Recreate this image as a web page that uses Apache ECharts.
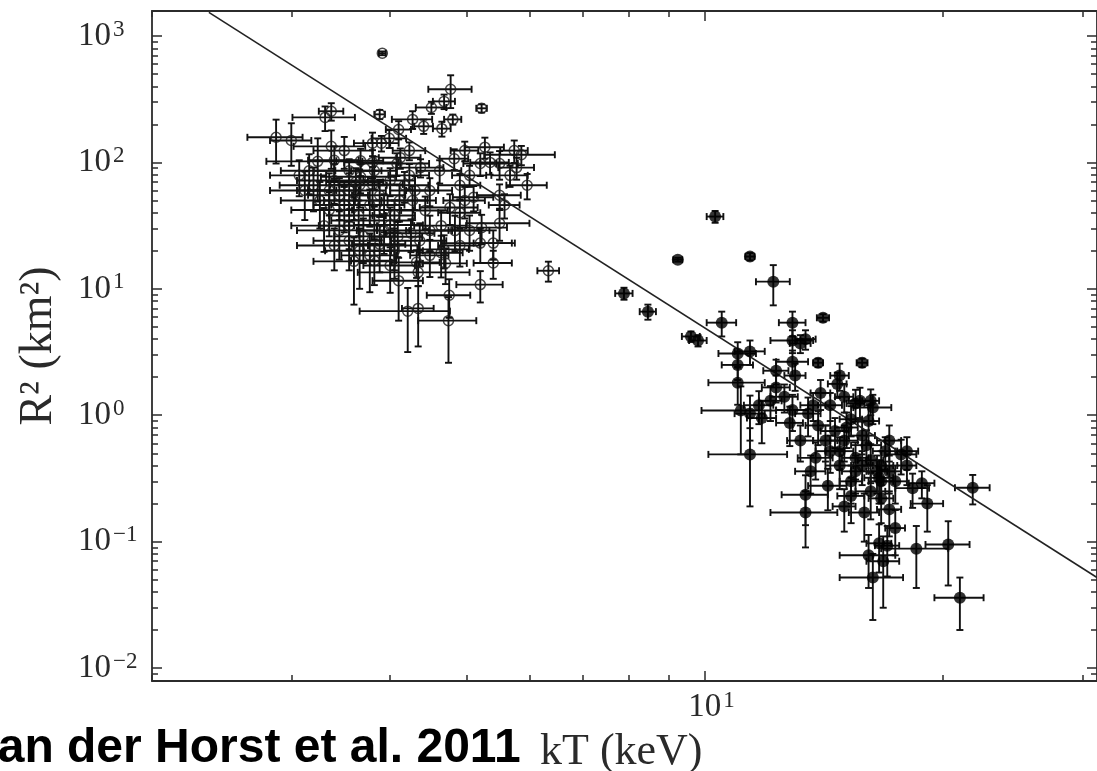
<!DOCTYPE html>
<html><head><meta charset="utf-8">
<script src="https://cdn.jsdelivr.net/npm/echarts@6/dist/echarts.min.js"></script>
<style>html,body{margin:0;padding:0;background:#fff;overflow:hidden}#c{width:1097px;height:771px}</style>
</head><body><div id="c"></div>
<script>
// ---- open circles (left cluster) ----
const openKT = [3.91,3.88,5.22,4.77,4.68,4.51,4.27,4.41,4.65,4.80,
 2.87,3.00,3.31,3.37,3.37,3.24,4.10,5.27,5.74,5.86,
 5.96,6.34,4.21,4.34,4.74,4.34,4.32,3.82,4.75,5.20,
 5.40,4.25,4.68,4.70,3.67,3.67,3.80,3.80,3.90,3.99,
 4.08,3.62,3.80,4.23,4.12,4.82,5.20,5.35,5.50,4.37,
 4.62,5.78,5.50,5.10,4.27,4.76,4.90,4.64,4.09,5.22,
 5.50,4.36,4.64,5.20,5.40,3.40,3.45,3.55,3.50,3.60,
 3.35,3.65,3.77,3.88,3.93,4.00,3.70,3.55,3.88,4.05,
 3.77,3.60,4.43,4.49,4.90,5.04,3.40,3.50,3.20,3.26,
 4.00,4.17,4.23,4.97,5.04,5.67,5.58,3.66,4.00,4.10,
 3.82,4.90,4.49,3.45,3.30,3.12,3.07,3.55,4.05,
 3.55,3.40,3.66,3.82,3.93,4.11,4.30,4.49,4.83,4.97,3.35,3.16,4.05];
const openKTerr = [0.04,0.06,0.08,0.30,0.15,0.20,0.25,0.12,0.12,0.12,
 0.23,0.18,0.30,0.12,0.35,0.45,0.15,0.30,0.23,0.60,
 0.35,0.20,0.55,0.20,0.40,0.70,0.30,0.45,0.30,0.35,
 0.30,0.30,0.35,0.30,0.40,0.25,0.20,0.30,0.20,0.20,
 0.40,0.30,0.35,0.20,0.25,0.20,0.25,0.30,0.30,0.30,
 0.30,0.30,0.35,0.30,0.30,0.40,0.30,0.35,0.30,0.40,
 0.50,0.35,0.30,0.55,0.30,0.35,0.30,0.40,0.30,0.30,
 0.35,0.30,0.40,0.30,0.35,0.40,0.30,0.35,0.30,0.35,
 0.30,0.40,0.30,0.30,0.30,0.30,0.25,0.30,0.30,0.35,
 0.30,0.30,0.25,0.20,0.25,0.30,0.25,0.35,0.30,0.30,
 0.25,0.30,0.25,0.40,0.30,0.30,0.25,0.35,0.25,
 0.30,0.35,0.30,0.25,0.30,0.35,0.30,0.30,0.35,0.30,0.30,0.25,0.30];
const openR2 = [730,240,268,379,304,272,219,193,185,219,
 158,149,227,254,134,102,182,132,124,115,
 66,13.9,6.66,7.0,5.6,13.5,16.2,34.7,8.9,10.8,
 16,27.5,20.5,15.9,77,103,142,100,142,155,
 98,70,67,124,109,107,98,100,98,91,
 86,91,55,53,50,44,40,31.6,25.8,30.5,
 33,24,19.3,23,23,72,55,60,46,50,
 42,38,46,55,42,32,26,24,22.5,20,
 18.4,16.5,41.7,60,66,29,104,124,66,50,
 72,66,79,124,79,79,46,20,15.3,11.6,
 16.7,22,18.4,29,31.6,60,79,86,38,
 31.6,22,66,86,28.9,50,60,28.9,28.9,50,60,86,22];
const openR2err = [25,20,20,110,40,30,35,25,25,20,
 60,55,50,40,45,53,30,25,25,20,
 15,2.5,3.5,3.5,3.0,3,4,10,3,3,
 4,8,6,5,20,25,30,25,20,25,
 20,20,25,20,20,20,20,20,25,15,
 18,18,12,12,15,12,10,10,8,8,
 9,9,7,7,6,25,20,22,18,15,
 16,12,15,18,14,12,10,10,9,8,
 9,9,12,15,15,9,30,35,25,20,
 18,18,18,22,15,15,10,10,6,6,
 6,7,6,12,12,25,25,20,12,
 11,8,22,25,10,16,18,9,9,14,22,30,8];

// ---- filled circles (right cluster) ----
const filledKT = [10.3,11.4,12.2,10.5,12.9,14.1,7.9,8.47,9.24,9.6,
 9.8,12.9,13.4,13.2,11.0,11.4,11.0,11.0,12.9,13.9,
 15.8,12.3,13.0,14.8,14.7,12.3,11.1,11.4,11.8,12.1,
 12.8,12.9,13.5,14.0,15.5,16.3,16.1,15.1,11.4,13.8,
 14.8,15.5,16.9,17.7,16.6,14.3,13.4,13.4,15.3,16.7,
 15.9,17.1,18.3,18.8,19.1,21.8,17.4,16.6,17.0,16.1,
 16.8,18.5,20.3,16.3,21.0,14.6,15.0,15.3,15.8,16.0,
 16.2,16.5,16.7,17.1,16.7,16.2,15.5,14.8,14.4,14.2,
 13.9,13.7,14.4,15.0,15.7,16.2,17.4,18.0,12.6,11.7,
 13.2,13.6,15.3,17.1,18.0,15.8,15.0];
const filledKTerr = [0.25,0.15,0.6,0.45,0.5,0.25,0.2,0.2,0.12,0.25,
 0.25,0.8,0.4,0.4,0.6,0.5,0.5,0.9,0.6,0.2,
 0.25,0.45,0.4,0.4,0.4,0.5,1.2,0.5,0.5,0.4,
 0.5,0.6,0.5,0.4,0.4,0.9,0.5,0.5,1.3,0.7,
 0.6,0.6,0.6,0.8,0.7,0.8,0.9,1.3,0.6,0.6,
 0.7,0.6,0.9,0.7,0.9,1.1,0.5,0.6,0.6,1.3,
 0.8,1.8,1.3,1.5,1.5,0.6,0.6,0.5,0.6,0.7,
 0.6,0.5,0.6,0.6,0.6,0.7,0.6,0.6,0.6,0.5,
 0.5,0.5,0.5,0.4,0.5,0.4,0.6,0.5,0.5,0.5,
 0.5,0.6,0.5,0.6,0.6,0.5,0.5];
const filledR2 = [37.3,18,11.4,5.4,5.4,5.9,9.2,6.6,17,4.2,
 3.9,3.9,4.0,3.7,3.08,3.2,2.5,1.81,2.65,2.6,
 2.6,2.25,2.06,2.06,1.77,1.66,1.09,1.03,0.95,1.3,
 0.87,1.1,1.03,1.5,1.24,1.15,0.9,0.8,0.49,0.46,
 0.52,0.46,0.52,0.49,0.32,0.277,0.235,0.17,0.23,0.22,
 0.17,0.18,0.265,0.29,0.2,0.267,0.128,0.097,0.093,0.078,
 0.07,0.088,0.095,0.052,0.036,0.75,0.63,0.93,0.69,0.58,
 0.44,0.36,0.4,0.36,0.3,0.25,0.36,0.4,0.52,0.63,
 0.83,1.2,1.2,1.4,1.3,1.3,0.3,0.4,1.4,1.2,
 0.63,0.36,0.3,0.63,0.52,0.4,0.19];
const filledR2err = [4,1.2,4,1.2,1.2,0.4,1.0,0.9,0.6,0.4,
 0.4,0.8,0.7,0.6,0.7,0.7,0.6,0.6,0.6,0.2,
 0.2,0.5,0.5,0.5,0.4,0.4,0.6,0.4,0.35,0.4,
 0.3,0.35,0.35,0.4,0.35,0.3,0.3,0.25,0.3,0.15,
 0.15,0.15,0.15,0.15,0.12,0.1,0.1,0.08,0.09,0.08,
 0.07,0.07,0.08,0.07,0.08,0.07,0.05,0.04,0.04,0.035,
 0.04,0.045,0.05,0.028,0.016,0.2,0.2,0.25,0.2,0.18,
 0.15,0.12,0.12,0.12,0.1,0.1,0.12,0.14,0.17,0.2,
 0.25,0.3,0.3,0.35,0.35,0.3,0.1,0.12,0.35,0.35,
 0.2,0.12,0.1,0.2,0.15,0.12,0.07];

// ---- best-fit line (two end points) ----
const fitKT = [2.36, 31.3];
const fitR2 = [1540, 0.052];

// ---- axes ----
const xRange = [2.0, 31.3];
const yRange = [0.0079, 1577];
const xMajorTicks = [10];
const xTickExps = ['1'];
const xMinorTicks = [2,3,4,5,6,7,8,9,20,30];
const yMajorTicks = [0.01,0.1,1,10,100,1000];
const yTickExps = ['\u22122','\u22121','0','1','2','3'];
const yMinorTicks = [0.008,0.009,
 0.02,0.03,0.04,0.05,0.06,0.07,0.08,0.09,
 0.2,0.3,0.4,0.5,0.6,0.7,0.8,0.9,
 2,3,4,5,6,7,8,9,
 20,30,40,50,60,70,80,90,
 200,300,400,500,600,700,800,900];

const AX = '#2b2b2b';
const SERIF = '"Liberation Serif","DejaVu Serif",serif';
const richLab = {
  n:{fontFamily:SERIF,fontSize:33,color:'#2a2a2a',lineHeight:36},
  e:{fontFamily:SERIF,fontSize:23,color:'#2a2a2a',lineHeight:18,verticalAlign:'top',padding:[0,0,0,2]}
};
const richLabX = {
  n:{fontFamily:SERIF,fontSize:33,color:'#2a2a2a',lineHeight:36,padding:[0,0,0,13]},
  e:{fontFamily:SERIF,fontSize:23,color:'#2a2a2a',lineHeight:18,verticalAlign:'top',padding:[0,0,0,2]}
};
function findIdx(arr,v){for(let i=0;i<arr.length;i++){if(Math.abs(arr[i]-v)/arr[i]<1e-6)return i;}return -1;}

function baseAxis(range,pos,ticks,len,lineShow){
  return {type:'log',logBase:10,min:range[0],max:range[1],position:pos,gridIndex:0,
    axisLine:{show:lineShow,onZero:false,lineStyle:{color:AX,width:1.8}},
    axisTick:{show:true,inside:true,length:len,customValues:ticks,lineStyle:{color:AX,width:1.5}},
    axisLabel:{show:false},
    splitLine:{show:false},minorTick:{show:false},minorSplitLine:{show:false},
    axisPointer:{show:false}};
}
const xAx0 = baseAxis(xRange,'bottom',xMajorTicks,10,true);
xAx0.axisLabel = {show:true,customValues:xMajorTicks,margin:8,
  formatter:function(v){const i=findIdx(xMajorTicks,v);return '{n|10}{e|'+xTickExps[i]+'}';},rich:richLabX};
const yAx0 = baseAxis(yRange,'left',yMajorTicks,10,true);
yAx0.axisLabel = {show:true,customValues:yMajorTicks,margin:74,align:'left',
  formatter:function(v){const i=findIdx(yMajorTicks,v);return '{n|10}{e|'+yTickExps[i]+'}';},rich:richLab};
yAx0.name = 'R\u00b2 (km\u00b2)';
yAx0.nameLocation = 'middle';
yAx0.nameGap = 90;
yAx0.nameRotate = 90;
yAx0.nameTextStyle = {fontFamily:SERIF,fontSize:46,color:'#2a2a2a'};

const xAxes = [xAx0, baseAxis(xRange,'bottom',xMinorTicks,6,false),
  baseAxis(xRange,'top',xMajorTicks,10,true), baseAxis(xRange,'top',xMinorTicks,6,false)];
const yAxes = [yAx0, baseAxis(yRange,'left',yMinorTicks,6,false),
  baseAxis(yRange,'right',yMajorTicks,10,true), baseAxis(yRange,'right',yMinorTicks,6,false)];

function makeData(kt,kte,r,re){const d=[];for(let i=0;i<kt.length;i++){d.push([kt[i],r[i],kte[i],re[i]]);}return d;}
const openData = makeData(openKT,openKTerr,openR2,openR2err);
const filledData = makeData(filledKT,filledKTerr,filledR2,filledR2err);

function errRender(params, api){
  const x=api.value(0), y=api.value(1), dx=api.value(2), dy=api.value(3);
  const c=api.coord([x,y]);
  const l=api.coord([x-dx,y]), r=api.coord([x+dx,y]);
  const t=api.coord([x,y+dy]);
  const lowV = y-dy > yRange[0]*0.2 ? y-dy : yRange[0]*0.2;
  const b=api.coord([x,lowV]);
  const cap=3.5;
  const st={stroke:'#111',lineWidth:1.9};
  return {type:'group',children:[
    {type:'line',shape:{x1:l[0],y1:c[1],x2:r[0],y2:c[1]},style:st},
    {type:'line',shape:{x1:l[0],y1:c[1]-cap,x2:l[0],y2:c[1]+cap},style:st},
    {type:'line',shape:{x1:r[0],y1:c[1]-cap,x2:r[0],y2:c[1]+cap},style:st},
    {type:'line',shape:{x1:c[0],y1:t[1],x2:c[0],y2:b[1]},style:st},
    {type:'line',shape:{x1:c[0]-cap,y1:t[1],x2:c[0]+cap,y2:t[1]},style:st},
    {type:'line',shape:{x1:c[0]-cap,y1:b[1],x2:c[0]+cap,y2:b[1]},style:st}
  ]};
}

const chart = echarts.init(document.getElementById('c'),null,{renderer:'canvas'});
chart.setOption({
  animation:false,
  backgroundColor:'#ffffff',
  grid:{left:152,top:11,right:0,bottom:90,containLabel:false},
  xAxis:xAxes,
  yAxis:yAxes,
  series:[
    {type:'custom',name:'openErr',xAxisIndex:0,yAxisIndex:0,renderItem:errRender,data:openData,clip:true,z:2,
      encode:{x:0,y:1}},
    {type:'custom',name:'filledErr',xAxisIndex:0,yAxisIndex:0,renderItem:errRender,data:filledData,clip:true,z:2,
      encode:{x:0,y:1}},
    {type:'line',name:'fit',xAxisIndex:0,yAxisIndex:0,data:[[fitKT[0],fitR2[0]],[fitKT[1],fitR2[1]]],
      showSymbol:false,symbol:'none',lineStyle:{color:'#222',width:1.6},clip:true,z:3},
    {type:'scatter',name:'open',xAxisIndex:0,yAxisIndex:0,data:openData.map(d=>[d[0],d[1]]),
      symbol:'circle',symbolSize:10,itemStyle:{color:'rgba(255,255,255,0)',borderColor:'#1a1a1a',borderWidth:1.5},z:4},
    {type:'scatter',name:'filled',xAxisIndex:0,yAxisIndex:0,data:filledData.map(d=>[d[0],d[1]]),
      symbol:'circle',symbolSize:12,itemStyle:{color:'#000'},z:4}
  ],
  graphic:[
    {type:'text',x:-29,y:749,style:{text:'van der Horst et al. 2011',font:'bold 48px "Liberation Sans", Arial, sans-serif',fill:'#000',verticalAlign:'middle',align:'left'}},
    {type:'text',x:540,y:752,style:{text:'kT (keV)',font:'44px "Liberation Serif", serif',fill:'#2a2a2a',verticalAlign:'middle',align:'left'}}
  ]
});
</script>
</body></html>
